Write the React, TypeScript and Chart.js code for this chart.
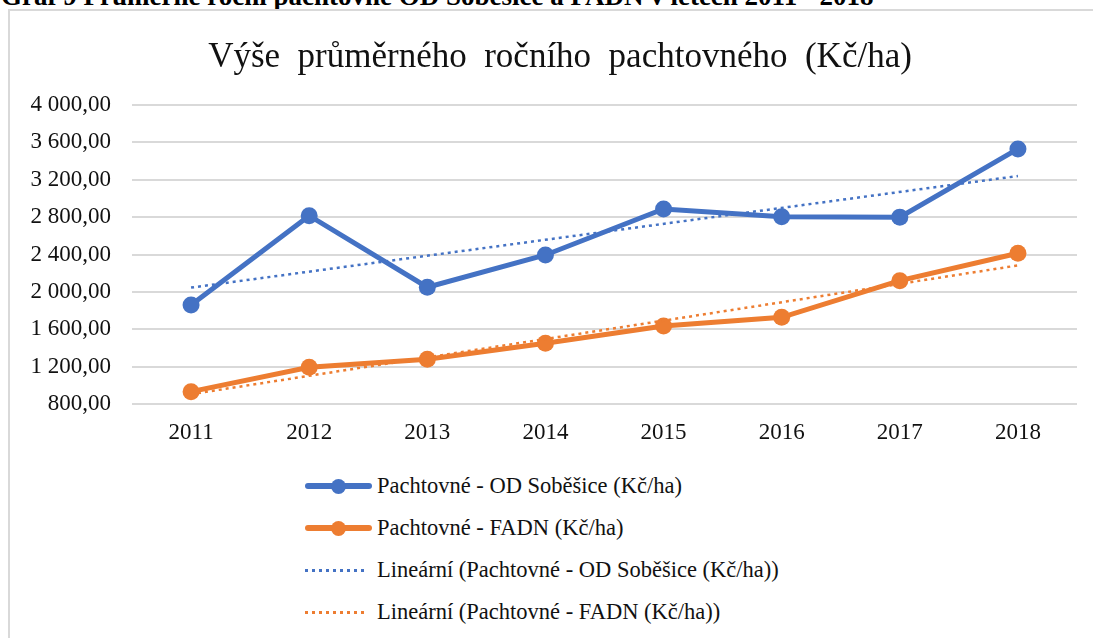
import React, { useEffect, useRef } from 'react';
import { Chart, registerables } from 'chart.js';

Chart.register(...registerables);

const caption = 'Graf 9 Průměrné roční pachtovné OD Soběšice a FADN v letech 2011 - 2018';
const chartTitle = 'Výše  průměrného  ročního  pachtovného  (Kč/ha)';
const years = ['2011', '2012', '2013', '2014', '2015', '2016', '2017', '2018'];
const odSobesice = [1860, 2815, 2050, 2395, 2887, 2805, 2800, 3530];
const fadn = [932, 1193, 1278, 1450, 1635, 1728, 2120, 2413];
const odTrend = [2046, null, null, null, null, null, null, 3240];
const fadnTrend = [905, null, null, null, null, null, null, 2283];
const yTicks = [800, 1200, 1600, 2000, 2400, 2800, 3200, 3600, 4000];
const seriesLabels = [
  'Pachtovné - OD Soběšice (Kč/ha)',
  'Pachtovné - FADN (Kč/ha)',
  'Lineární (Pachtovné - OD Soběšice (Kč/ha))',
  'Lineární (Pachtovné - FADN (Kč/ha))',
];

const BLUE = '#4472C4';
const ORANGE = '#ED7D31';
const FONT = "'Liberation Serif', 'Times New Roman', serif";

function fmt(n: number): string {
  const [i, d] = n.toFixed(2).split('.');
  return i.replace(/\B(?=(\d{3})+(?!\d))/g, ' ') + ',' + d;
}

export default function App() {
  const ref = useRef<HTMLCanvasElement | null>(null);

  useEffect(() => {
    if (!ref.current) return;
    const chart = new Chart(ref.current, {
      type: 'line',
      data: {
        labels: years,
        datasets: [
          {
            label: seriesLabels[2],
            data: odTrend,
            borderColor: BLUE,
            borderWidth: 2.5,
            borderDash: [3, 4],
            pointRadius: 0,
            spanGaps: true,
            order: 0,
          },
          {
            label: seriesLabels[3],
            data: fadnTrend,
            borderColor: ORANGE,
            borderWidth: 2.5,
            borderDash: [3, 4],
            pointRadius: 0,
            spanGaps: true,
            order: 0,
          },
          {
            label: seriesLabels[0],
            data: odSobesice,
            borderColor: BLUE,
            backgroundColor: BLUE,
            borderWidth: 5,
            pointRadius: 8.5,
            pointBorderWidth: 0,
            pointBackgroundColor: BLUE,
            order: 1,
          },
          {
            label: seriesLabels[1],
            data: fadn,
            borderColor: ORANGE,
            backgroundColor: ORANGE,
            borderWidth: 5,
            pointRadius: 8.5,
            pointBorderWidth: 0,
            pointBackgroundColor: ORANGE,
            order: 2,
          },
        ],
      },
      options: {
        animation: false,
        responsive: false,
        maintainAspectRatio: false,
        layout: { padding: { left: 13, right: 0, top: 0, bottom: 0 } },
        plugins: {
          legend: { display: false },
          tooltip: { enabled: false },
          title: {
            display: true,
            text: chartTitle,
            color: '#111',
            font: { family: FONT, size: 35, weight: 'normal', lineHeight: 1.2 },
            padding: { top: 37, bottom: 26 },
          },
        },
        scales: {
          x: {
            offset: true,
            grid: { display: false, drawTicks: false },
            border: { display: false },
            ticks: { color: '#111', font: { family: FONT, size: 23 }, padding: 15, maxRotation: 0 },
            afterFit: (s: any) => { s.height = 46; },
          },
          y: {
            min: 800,
            max: 4000,
            grid: { color: '#d9d9d9', lineWidth: 2, drawTicks: false },
            border: { display: false },
            afterBuildTicks: (s: any) => { s.ticks = yTicks.map((v) => ({ value: v })); },
            ticks: {
              color: '#111',
              font: { family: FONT, size: 23 },
              padding: 21,
              callback: (v: any) => fmt(Number(v)),
            },
            afterFit: (s: any) => { s.width = 119; },
          },
          y2: {
            position: 'right',
            display: true,
            grid: { display: false, drawTicks: false },
            border: { display: false },
            ticks: { display: false },
            afterFit: (s: any) => { s.width = 30; },
          },
        },
      },
    });
    return () => chart.destroy();
  }, []);

  const legendRows = [
    { label: seriesLabels[0], color: BLUE, dotted: false, y: 486 },
    { label: seriesLabels[1], color: ORANGE, dotted: false, y: 528 },
    { label: seriesLabels[2], color: BLUE, dotted: true, y: 570 },
    { label: seriesLabels[3], color: ORANGE, dotted: true, y: 612 },
  ];

  return (
    <div style={{ position: 'absolute', left: 0, top: 0, width: 1093, height: 638, overflow: 'hidden', background: '#fff' }}>
      <div
        style={{
          position: 'absolute', left: 1, top: -17, whiteSpace: 'nowrap',
          fontFamily: FONT, fontWeight: 'bold', fontSize: 27, lineHeight: '27px', color: '#000',
        }}
      >
        {caption}
      </div>
      <div style={{ position: 'absolute', left: 8, top: 9, width: 1200, height: 700, border: '2px solid #d9d9d9', boxSizing: 'border-box' }} />
      <canvas ref={ref} width={1107} height={450} style={{ position: 'absolute', left: 0, top: 0, width: 1107, height: 450 }} />
      {legendRows.map((r, i) => (
        <div key={i} style={{ position: 'absolute', left: 305, top: r.y - 14, height: 28, display: 'flex', alignItems: 'center' }}>
          <div style={{ position: 'relative', width: 67, height: 28 }}>
            {r.dotted ? (
              <div
                style={{
                  position: 'absolute', left: 0, top: 13, width: 63, height: 2.5,
                  background: `repeating-linear-gradient(to right, ${r.color} 0px, ${r.color} 3px, transparent 3px, transparent 7px)`,
                }}
              />
            ) : (
              <>
                <div style={{ position: 'absolute', left: 0, top: 11, width: 67, height: 6, background: r.color, borderRadius: 3 }} />
                <div style={{ position: 'absolute', left: 26, top: 6.5, width: 15, height: 15, borderRadius: '50%', background: r.color }} />
              </>
            )}
          </div>
          <div style={{ marginLeft: 5, fontFamily: FONT, fontSize: 22.5, color: '#111', whiteSpace: 'nowrap', lineHeight: '28px' }}>
            {r.label}
          </div>
        </div>
      ))}
    </div>
  );
}
